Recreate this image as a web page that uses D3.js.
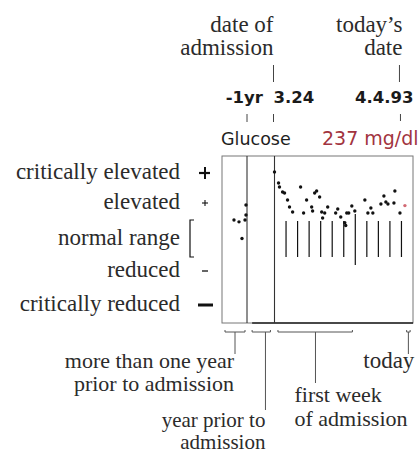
<!DOCTYPE html>
<html>
<head>
<meta charset="utf-8">
<script src="https://cdn.jsdelivr.net/npm/d3@7"></script>
<style>
  html, body { margin: 0; padding: 0; background: #fff; }
  svg { display: block; }
</style>
</head>
<body>
<script>
// Glucose history: readings before admission and during the hospital stay.
// Time is in days relative to the admission date (3.24); today is 4.4.93.
const priorDays    = [-555, -482, -438, -394, -380, -380];
const priorGlucose = [110, 108, 90, 110, 154, 242];

const stayDays = [0.0, 0.35, 0.43, 0.70, 0.87, 1.13, 1.30, 1.57, 2.26, 2.52,
                  2.78, 3.22, 3.30, 3.48, 3.65, 3.91, 4.09, 4.17, 4.35, 4.61,
                  5.30, 5.48, 5.74, 6.09, 6.17, 6.26, 6.43, 6.70, 6.96, 7.83,
                  8.09, 8.35, 8.52, 9.22, 9.48, 9.65, 9.83, 10.35, 10.43, 10.87,
                  11.3];
const stayGlucose = [405, 353, 335, 311, 307, 274, 225, 181, 335, 172,
                     274, 225, 189, 307, 316, 288, 181, 128, 172, 225,
                     172, 207, 136, 107, 104, 172, 172, 234, 189, 274,
                     172, 216, 172, 251, 293, 265, 251, 260, 316, 172,
                     237];

// Reference levels shown on the left (mg/dl)
const levelLabels = ["critically elevated", "elevated", "normal range", "reduced", "critically reduced"];
const levelGlucose = [400, 260, 90, 60, 40];
const levelMarks = ["bigplus", "plus", "bracket", "minus", "bigminus"];
const normalRange = [70, 110];

// Day boundaries during the stay
const dayMarks = [1, 2, 3, 4, 5, 6, 7, 8, 9, 10, 11];
const weekMark = 7;

// Time annotations
const oneYearBefore = -365;
const admissionDay = 0;
const todayDay = 11;
const labelYearBack = "-1yr";
const labelAdmission = "3.24";
const labelToday = "4.4.93";
const measureName = "Glucose";
const unit = "mg/dl";

// Spans marked under the chart: [start, end, stem]
const spanMoreThanYear = [-686, -394, -540];
const spanYearPrior = [-297, -54, -120];
const spanFirstWeek = [0.3, 6.75, 3.55];
const spanToday = [11.45, 11.75, 11.6];

const SERIF = "Liberation Serif";
const SANS = "DejaVu Sans";

const W = 420, H = 453;
const svg = d3.select("body").append("svg").attr("width", W).attr("height", H);
svg.append("rect").attr("width", W).attr("height", H).attr("fill", "#fff");

// Piecewise scales: compressed pre-admission history, daily resolution after admission
const x = d3.scaleLinear().domain([-730, oneYearBefore, admissionDay, 12]).range([222, 247, 274.5, 413]);
const y = d3.scaleLinear().domain([40, 60, 70, 110, 260, 400]).range([305, 271, 257, 220, 203, 173]);

const frameTop = 156, frameBottom = 323;

// Frame
svg.append("rect")
  .attr("x", x(-730)).attr("y", frameTop)
  .attr("width", x(12) - x(-730)).attr("height", frameBottom - frameTop)
  .attr("fill", "none").attr("stroke", "#777").attr("stroke-width", 1);
svg.append("line")
  .attr("x1", x(-297)).attr("x2", x(12)).attr("y1", frameBottom).attr("y2", frameBottom)
  .attr("stroke", "#222").attr("stroke-width", 1.6);

// Separators: one year back, admission
[oneYearBefore, admissionDay].forEach(d => {
  svg.append("line")
    .attr("x1", x(d)).attr("x2", x(d)).attr("y1", frameTop).attr("y2", frameBottom)
    .attr("stroke", "#333").attr("stroke-width", 1.1);
});

// Daily marks spanning the normal range
svg.append("g").selectAll("line").data(dayMarks).join("line")
  .attr("x1", d => x(d)).attr("x2", d => x(d))
  .attr("y1", d => d === weekMark ? y(normalRange[1]) - 6 : y(normalRange[1]) + 1)
  .attr("y2", d => d === weekMark ? y(normalRange[0]) + 8 : y(normalRange[0]))
  .attr("stroke", "#111").attr("stroke-width", 1.2);

// Readings
const dot = 1.7;
svg.append("g").selectAll("circle").data(d3.zip(priorDays, priorGlucose)).join("circle")
  .attr("cx", d => x(d[0])).attr("cy", d => y(d[1])).attr("r", dot).attr("fill", "#111");
const last = stayDays.length - 1;
svg.append("g").selectAll("circle").data(d3.zip(stayDays, stayGlucose)).join("circle")
  .attr("cx", d => x(d[0])).attr("cy", d => y(d[1])).attr("r", dot)
  .attr("fill", (d, i) => i === last ? "#d26a74" : "#111");

const serifText = (tx, ty, anchor, s, size = 23) => svg.append("text")
  .attr("font-family", SERIF).style("font-family", SERIF)
  .attr("font-size", size).attr("fill", "#2b2b2b")
  .attr("x", tx).attr("y", ty).attr("text-anchor", anchor).text(s);

// Level legend on the left
const markX = 205;
levelLabels.forEach((lab, i) => {
  const yy = y(levelGlucose[i]);
  serifText(180, yy + 6, "end", lab);
  const m = levelMarks[i];
  const g = svg.append("g").attr("stroke", "#111").attr("fill", "none");
  if (m === "bigplus") {
    g.append("line").attr("x1", markX - 6).attr("x2", markX + 5).attr("y1", yy).attr("y2", yy).attr("stroke-width", 2.2);
    g.append("line").attr("x1", markX).attr("x2", markX).attr("y1", yy - 6).attr("y2", yy + 6).attr("stroke-width", 2);
  } else if (m === "plus") {
    g.append("line").attr("x1", markX - 3).attr("x2", markX + 3).attr("y1", yy).attr("y2", yy).attr("stroke-width", 1.1);
    g.append("line").attr("x1", markX).attr("x2", markX).attr("y1", yy - 3).attr("y2", yy + 3).attr("stroke-width", 1.1);
  } else if (m === "bracket") {
    const y1 = y(normalRange[1]), y0 = y(normalRange[0]);
    g.append("path").attr("d", `M194,${y1} L190,${y1} L190,${y0} L194,${y0}`).attr("stroke-width", 1.2);
  } else if (m === "minus") {
    g.append("line").attr("x1", markX - 3).attr("x2", markX + 3).attr("y1", yy).attr("y2", yy).attr("stroke-width", 1.3);
  } else {
    g.append("line").attr("x1", markX - 7).attr("x2", markX + 8).attr("y1", yy).attr("y2", yy).attr("stroke-width", 3);
  }
});

// Header: measure name and latest value
svg.append("text").attr("font-family", SANS)
  .attr("x", 221).attr("y", 145).attr("font-size", 17.5).attr("fill", "#1e1e1e")
  .text(measureName);
svg.append("text").attr("font-family", SANS)
  .attr("x", 322).attr("y", 145).attr("font-size", 19).attr("fill", "#a2343f")
  .text(`${stayGlucose[last]} ${unit}`);

// Dates
const dateText = (tx, anchor, s) => svg.append("text").attr("font-family", SANS)
  .attr("font-weight", "bold").attr("font-size", 16.5).attr("fill", "#1a1a1a")
  .attr("x", tx).attr("y", 103).attr("text-anchor", anchor).text(s);
dateText(x(oneYearBefore) + 16, "end", labelYearBack);
dateText(x(admissionDay) - 1, "start", labelAdmission);
dateText(x(todayDay) + 12, "end", labelToday);

// Small ticks tying the dates to the time axis
const tick = (xx, y1, y2) => svg.append("line")
  .attr("x1", xx).attr("x2", xx).attr("y1", y1).attr("y2", y2)
  .attr("stroke", "#444").attr("stroke-width", 1);
tick(x(oneYearBefore), 114, 122);
tick(x(admissionDay) - 1, 114, 122);
tick(x(todayDay) - 1, 114, 121);
tick(x(admissionDay) - 1, 65, 82);
tick(x(todayDay) - 2, 65, 82);

// Top annotations
serifText(x(admissionDay) - 1, 32, "end", "date of");
serifText(x(admissionDay) - 1, 55, "end", "admission");
serifText(x(todayDay) + 1, 32, "end", "today\u2019s");
serifText(x(todayDay) + 1, 55, "end", "date");

// Spans under the chart with leader stems
const spanY = 332;
const span = (s, stemEnd) => {
  const g = svg.append("g").attr("stroke", "#555").attr("fill", "none").attr("stroke-width", 1);
  g.append("path").attr("d", `M${x(s[0])},${spanY - 2} L${x(s[0])},${spanY} L${x(s[1])},${spanY} L${x(s[1])},${spanY - 2}`);
  g.append("line").attr("x1", x(s[2])).attr("x2", x(s[2])).attr("y1", spanY).attr("y2", stemEnd);
};
span(spanMoreThanYear, 354);
span(spanYearPrior, 410);
span(spanFirstWeek, 383);
span(spanToday, 354);

serifText(x(spanMoreThanYear[2]) - 1, 368, "end", "more than one year", 22);
serifText(x(spanMoreThanYear[2]) - 1, 391, "end", "prior to admission", 22);
serifText(x(spanYearPrior[2]), 427, "end", "year prior to", 21);
serifText(x(spanYearPrior[2]), 449, "end", "admission", 21);
serifText(x(spanFirstWeek[2]) - 21, 402, "start", "first week", 22);
serifText(x(spanFirstWeek[2]) - 21, 426, "start", "of admission", 22);
serifText(x(spanToday[2]) + 6, 368, "end", "today");
</script>
</body>
</html>
